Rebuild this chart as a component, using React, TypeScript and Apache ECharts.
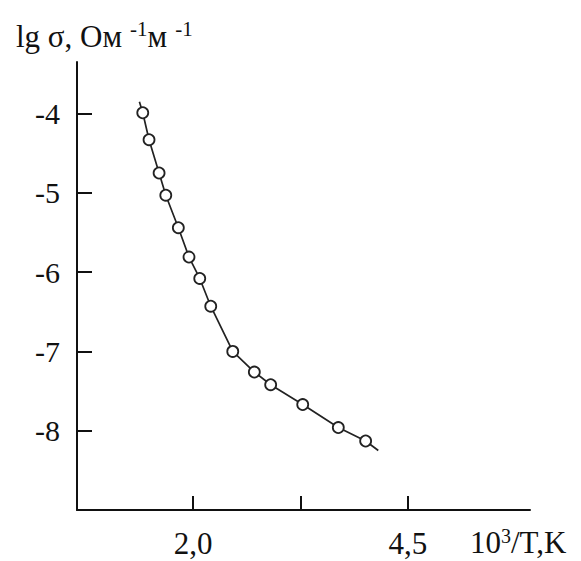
import React, { useEffect, useRef } from "react";
import * as echarts from "echarts";

// Measured points (10^3/T, lg sigma)
const measuredX = [1.415, 1.488, 1.605, 1.683, 1.829, 1.953, 2.078, 2.206, 2.462, 2.713, 2.903, 3.276, 3.69, 4.008];
const measuredY = [-3.99, -4.33, -4.75, -5.03, -5.44, -5.81, -6.08, -6.43, -7.0, -7.26, -7.42, -7.67, -7.96, -8.13];
// Ends of the drawn curve beyond the first and last marker
const curveStart = [1.376, -3.85];
const curveEnd = [4.155, -8.25];

const xTickValues = [2.0, 3.25, 4.5];
const xLabelValues = [2.0, 4.5];
const yTickValues = [-8, -7, -6, -5, -4];

const FONT = "'Liberation Serif', 'Times New Roman', serif";
const INK = "#111";

export default function App() {
  const ref = useRef<HTMLDivElement>(null);
  useEffect(() => {
    if (!ref.current) return;
    const chart = echarts.init(ref.current, null, { renderer: "svg" });
    const points = measuredX.map((x, i) => [x, measuredY[i]]);
    const curve = [curveStart, ...points, curveEnd];
    chart.setOption({
      animation: false,
      backgroundColor: "#fff",
      title: {
        text: "{a|lg σ, Ом}{s|-1}{a|м}{s|-1}",
        left: 11,
        top: 13,
        textStyle: {
          fontWeight: "normal",
          rich: {
            a: { fontFamily: FONT, fontSize: 31, fontWeight: "normal", color: INK, lineHeight: 36 },
            s: { fontFamily: FONT, fontSize: 21, fontWeight: "normal", color: INK, padding: [0, 0, 14, 8] },
          },
        },
      },
      grid: { left: 77, right: 51, top: 62, bottom: 51 },
      xAxis: {
        type: "value",
        min: 0.65,
        max: 5.92,
        name: "{a|10}{s|3}{a|/T,K}",
        nameLocation: "end",
        nameGap: -60,
        nameTextStyle: {
          align: "left",
          verticalAlign: "top",
          padding: [15, 0, 0, 0],
          rich: {
            a: { fontFamily: FONT, fontSize: 31, color: INK, lineHeight: 34 },
            s: { fontFamily: FONT, fontSize: 20, color: INK, padding: [0, 0, 12, 0] },
          },
        },
        axisLine: { show: true, lineStyle: { color: INK, width: 2 } },
        axisTick: {
          show: true,
          inside: true,
          length: 14,
          customValues: xTickValues,
          lineStyle: { color: INK, width: 2 },
        },
        axisLabel: {
          customValues: xLabelValues,
          formatter: (v: number) => v.toFixed(1).replace(".", ","),
          fontFamily: FONT,
          fontSize: 31,
          color: INK,
          margin: 18,
        },
        splitLine: { show: false },
      },
      yAxis: {
        type: "value",
        min: -9,
        max: -3.35,
        axisLine: { show: true, lineStyle: { color: INK, width: 2 } },
        axisTick: {
          show: true,
          inside: true,
          length: 15,
          customValues: yTickValues,
          lineStyle: { color: INK, width: 2 },
        },
        axisLabel: {
          customValues: yTickValues,
          formatter: (v: number) => String(v),
          fontFamily: FONT,
          fontSize: 30,
          color: INK,
          margin: 17,
        },
        splitLine: { show: false },
      },
      series: [
        {
          type: "line",
          data: curve,
          showSymbol: false,
          symbol: "none",
          lineStyle: { color: "#222", width: 1.7 },
          z: 2,
        },
        {
          type: "scatter",
          data: points,
          symbol: "circle",
          symbolSize: 11,
          itemStyle: { color: "#fff", borderColor: "#222", borderWidth: 1.8, opacity: 1 },
          z: 3,
        },
      ],
    });
    return () => chart.dispose();
  }, []);
  return (
    <div
      ref={ref}
      style={{ position: "absolute", left: 0, top: 0, width: 581, height: 561 }}
    />
  );
}
